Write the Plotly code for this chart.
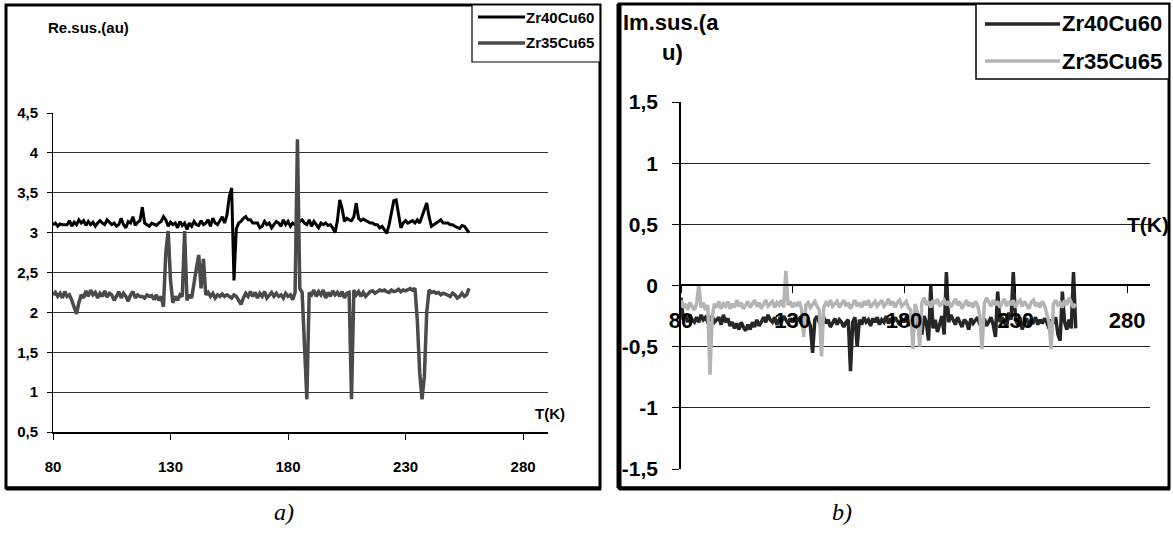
import plotly.graph_objects as go

W, H = 1173, 535

# ---------------- data ----------------
T_LEFT = list(range(80, 258))
T_RIGHT = list(range(80, 258))

re_zr40cu60 = [
    3.10, 3.12, 3.08, 3.11, 3.10, 3.10, 3.10, 3.15, 3.08, 3.13,
    3.10, 3.16, 3.12, 3.15, 3.09, 3.14, 3.10, 3.13, 3.08, 3.12,
    3.15, 3.12, 3.10, 3.16, 3.13, 3.10, 3.12, 3.08, 3.10, 3.18,
    3.10, 3.06, 3.14, 3.12, 3.20, 3.09, 3.13, 3.15, 3.32, 3.12,
    3.10, 3.08, 3.12, 3.10, 3.09, 3.12, 3.14, 3.20, 3.16, 3.08,
    3.13, 3.10, 3.12, 3.06, 3.14, 3.09, 3.12, 3.04, 3.12, 3.08,
    3.14, 3.10, 3.09, 3.15, 3.10, 3.12, 3.16, 3.08, 3.18, 3.12,
    3.10, 3.15, 3.20, 3.12, 3.22, 3.45, 3.56, 2.40, 3.05, 3.12,
    3.14, 3.18, 3.20, 3.16, 3.16, 3.12, 3.12, 3.12, 3.06, 3.08,
    3.14, 3.10, 3.12, 3.06, 3.10, 3.14, 3.12, 3.08, 3.16, 3.10,
    3.14, 3.08, 3.12, 3.10, 3.12, 3.14, 3.16, 3.12, 3.10, 3.16,
    3.08, 3.14, 3.10, 3.06, 3.12, 3.10, 3.12, 3.09, 3.10, 3.06,
    3.00, 3.15, 3.41, 3.30, 3.14, 3.18, 3.16, 3.15, 3.20, 3.37,
    3.18, 3.15, 3.17, 3.15, 3.14, 3.12, 3.12, 3.10, 3.10, 3.06,
    3.08, 3.04, 2.99, 3.10, 3.25, 3.40, 3.41, 3.25, 3.06, 3.12,
    3.15, 3.12, 3.14, 3.15, 3.12, 3.16, 3.12, 3.20, 3.30, 3.37,
    3.20, 3.08, 3.10, 3.12, 3.14, 3.16, 3.12, 3.12, 3.12, 3.10,
    3.10, 3.08, 3.06, 3.05, 3.09, 3.08, 3.04, 3.00,
]

re_zr35cu65 = [
    2.22, 2.25, 2.20, 2.24, 2.18, 2.26, 2.20, 2.22, 2.15, 2.05,
    1.98, 2.12, 2.22, 2.18, 2.27, 2.20, 2.28, 2.22, 2.25, 2.18,
    2.24, 2.20, 2.27, 2.19, 2.24, 2.22, 2.15, 2.20, 2.26, 2.18,
    2.24, 2.20, 2.14, 2.22, 2.26, 2.18, 2.22, 2.20, 2.20, 2.18,
    2.22, 2.20, 2.21, 2.16, 2.22, 2.15, 2.20, 2.07, 2.75, 3.02,
    2.40, 2.12, 2.20, 2.15, 2.22, 2.20, 3.02, 2.15, 2.22, 2.18,
    2.40, 2.55, 2.72, 2.30, 2.67, 2.22, 2.25, 2.20, 2.24, 2.18,
    2.22, 2.20, 2.23, 2.20, 2.22, 2.20, 2.18, 2.22, 2.20, 2.15,
    2.10, 2.18, 2.24, 2.20, 2.26, 2.20, 2.25, 2.18, 2.24, 2.20,
    2.26, 2.18, 2.22, 2.25, 2.20, 2.24, 2.20, 2.22, 2.18, 2.24,
    2.20, 2.22, 2.16, 2.25, 4.17, 2.30, 2.25, 1.60, 0.91, 2.25,
    2.22, 2.28, 2.20, 2.26, 2.22, 2.28, 2.18, 2.25, 2.20, 2.27,
    2.22, 2.25, 2.20, 2.26, 2.18, 2.24, 2.25, 0.91, 2.28, 2.22,
    2.26, 2.20, 2.25, 2.20, 2.23, 2.26, 2.27, 2.24, 2.26, 2.28,
    2.27, 2.28, 2.26, 2.25, 2.28, 2.26, 2.27, 2.29, 2.26, 2.28,
    2.27, 2.29, 2.30, 2.28, 2.30, 1.90, 1.25, 0.91, 1.20, 2.00,
    2.28, 2.25, 2.26, 2.24, 2.25, 2.22, 2.24, 2.23, 2.22, 2.20,
    2.24, 2.22, 2.18, 2.20, 2.24, 2.20, 2.22, 2.30,
]

im_zr40cu60 = [
    -0.10, -0.28, -0.25, -0.30, -0.24, -0.28, -0.30, -0.26, -0.30, -0.24,
    -0.28, -0.26, -0.30, -0.27, -0.25, -0.30, -0.28, -0.26, -0.32, -0.24,
    -0.30, -0.27, -0.33, -0.30, -0.35, -0.31, -0.36, -0.30, -0.34, -0.37,
    -0.32, -0.36, -0.30, -0.34, -0.28, -0.33, -0.30, -0.26, -0.30, -0.24,
    -0.28, -0.30, -0.26, -0.32, -0.28, -0.30, -0.25, -0.28, -0.31, -0.27,
    -0.30, -0.26, -0.29, -0.27, -0.31, -0.26, -0.30, -0.28, -0.33, -0.55,
    -0.28, -0.25, -0.30, -0.28, -0.26, -0.31, -0.28, -0.34, -0.30, -0.27,
    -0.32, -0.28, -0.30, -0.34, -0.30, -0.28, -0.70, -0.30, -0.26, -0.50,
    -0.28, -0.32, -0.26, -0.30, -0.28, -0.33, -0.27, -0.30, -0.26, -0.32,
    -0.28, -0.30, -0.25, -0.31, -0.27, -0.30, -0.26, -0.29, -0.32, -0.27,
    -0.30, -0.26, -0.28, -0.33, -0.27, -0.30, -0.35, -0.28, -0.40, -0.25,
    -0.30, -0.45, 0.00, -0.35, -0.28, -0.38, -0.30, -0.25, -0.40, 0.11,
    -0.30, -0.24, -0.28, -0.32, -0.26, -0.30, -0.34, -0.28, -0.30, -0.36,
    -0.27, -0.31, -0.28, -0.26, -0.32, -0.29, -0.27, -0.33, -0.30, -0.26,
    -0.32, -0.42, -0.05, -0.30, -0.26, -0.30, -0.34, -0.22, -0.28, 0.11,
    -0.28, -0.32, -0.26, -0.36, -0.30, -0.27, -0.33, -0.28, -0.30, -0.26,
    -0.32, -0.28, -0.31, -0.27, -0.30, -0.35, -0.28, -0.31, -0.26, -0.40,
    -0.45, -0.05, -0.30, -0.36, -0.28, -0.35, 0.11, -0.35,
]

im_zr35cu65 = [
    -0.12, -0.18, -0.15, -0.20, -0.14, -0.17, -0.20, -0.15, 0.01, -0.18,
    -0.14, -0.20, -0.16, -0.73, -0.25, -0.15, -0.18, -0.13, -0.19, -0.15,
    -0.17, -0.13, -0.19, -0.15, -0.18, -0.12, -0.17, -0.14, -0.19, -0.16,
    -0.13, -0.18, -0.15, -0.12, -0.17, -0.14, -0.19, -0.15, -0.12, -0.17,
    -0.15, -0.13, -0.18, -0.14, -0.16, -0.12, -0.18, 0.12, -0.16, -0.13,
    -0.18, -0.14, -0.17, -0.13, -0.19, -0.42, -0.16, -0.14, -0.18, -0.15,
    -0.13, -0.17, -0.20, -0.58, -0.18, -0.14, -0.16, -0.12, -0.17, -0.15,
    -0.13, -0.18, -0.15, -0.12, -0.17, -0.14, -0.19, -0.15, -0.12, -0.17,
    -0.14, -0.18, -0.13, -0.16, -0.12, -0.18, -0.15, -0.13, -0.17, -0.14,
    -0.12, -0.17, -0.15, -0.11, -0.16, -0.13, -0.18, -0.14, -0.12, -0.17,
    -0.15, -0.13, -0.18, -0.20, -0.52, -0.15, -0.22, -0.50, -0.14, -0.10,
    -0.16, -0.13, -0.18, -0.12, -0.15, -0.11, -0.17, -0.14, -0.12, -0.16,
    -0.13, -0.18, -0.14, -0.11, -0.16, -0.13, -0.19, -0.15, -0.12, -0.17,
    -0.14, -0.18, -0.13, -0.16, -0.25, -0.52, -0.15, -0.10, -0.14, -0.17,
    -0.12, -0.16, -0.13, -0.18, -0.14, -0.11, -0.17, -0.13, -0.16, -0.12,
    -0.18, -0.14, -0.12, -0.17, -0.13, -0.16, -0.19, -0.14, -0.12, -0.17,
    -0.14, -0.18, -0.13, -0.16, -0.22, -0.30, -0.52, -0.15, -0.12, -0.16,
    -0.14, -0.18, -0.12, -0.16, -0.10, -0.14, -0.18, -0.15,
]

X_TICKS = [80, 130, 180, 230, 280]
X_TICK_TEXT = ["80", "130", "180", "230", "280"]
LEFT_Y_TICKS = [0.5, 1, 1.5, 2, 2.5, 3, 3.5, 4, 4.5]
LEFT_Y_TEXT = ["0,5", "1", "1,5", "2", "2,5", "3", "3,5", "4", "4,5"]
RIGHT_Y_TICKS = [-1.5, -1, -0.5, 0, 0.5, 1, 1.5]
RIGHT_Y_TEXT = ["-1,5", "-1", "-0,5", "0", "0,5", "1", "1,5"]
SERIES = ["Zr40Cu60", "Zr35Cu65"]

# ---------------- helpers ----------------
def fx(x):
    return x / W


def fy(y):
    return 1 - y / H


SANS = "Liberation Sans, Arial, sans-serif"
SERIF = "Liberation Serif, Times New Roman, serif"

C_BLACK = "#000000"
C_DGRAY = "#4a4a4a"
C_DARK = "#262626"
C_LIGHT = "#b4b4b4"

fig = go.Figure()

# left panel
fig.add_trace(go.Scatter(x=T_LEFT, y=re_zr40cu60, mode="lines", name=SERIES[0],
                         line=dict(color=C_BLACK, width=3), xaxis="x", yaxis="y",
                         showlegend=False))
fig.add_trace(go.Scatter(x=T_LEFT, y=re_zr35cu65, mode="lines", name=SERIES[1],
                         line=dict(color=C_DGRAY, width=3.5), xaxis="x", yaxis="y",
                         showlegend=False))
# right panel
fig.add_trace(go.Scatter(x=T_RIGHT, y=im_zr40cu60, mode="lines", name=SERIES[0],
                         line=dict(color=C_DARK, width=3.5), xaxis="x2", yaxis="y2",
                         showlegend=False))
fig.add_trace(go.Scatter(x=T_RIGHT, y=im_zr35cu65, mode="lines", name=SERIES[1],
                         line=dict(color=C_LIGHT, width=3.5), xaxis="x2", yaxis="y2",
                         showlegend=False))

# ---------------- axes ----------------
left_x0, left_x1 = 53, 548
right_x0, right_x1 = 681, 1150

fig.update_layout(
    template="none",
    width=W, height=H, margin=dict(l=0, r=0, t=0, b=0, pad=0, autoexpand=False),
    paper_bgcolor="white", plot_bgcolor="white",
    xaxis=dict(domain=[fx(left_x0), fx(left_x1)], range=[80, 290.6], automargin=False,
               tickvals=X_TICKS, ticktext=X_TICK_TEXT, showgrid=False, zeroline=False,
               showline=True, linecolor="black", linewidth=2, ticks="outside", ticklen=6,
               tickcolor="black", tickwidth=1, ticklabelstandoff=14,
               tickfont=dict(family=SANS, size=15, color="black", weight="bold"),
               anchor="y"),
    yaxis=dict(domain=[fy(432), fy(113)], range=[0.5, 4.5], automargin=False,
               tickvals=LEFT_Y_TICKS, ticktext=LEFT_Y_TEXT, showgrid=True,
               gridcolor="#333333", gridwidth=1.2, zeroline=False, showline=True,
               linecolor="black", linewidth=1, ticks="outside", ticklen=5, tickcolor="black",
               tickwidth=1, ticklabelstandoff=6,
               tickfont=dict(family=SANS, size=15, color="black", weight="bold"),
               anchor="x"),
    xaxis2=dict(domain=[fx(right_x0), fx(right_x1)], range=[80, 290.3], automargin=False,
                tickvals=X_TICKS, ticktext=X_TICK_TEXT, showgrid=False, zeroline=False,
                showline=True, linecolor="black", linewidth=2, ticks="outside", ticklen=7,
                tickcolor="black", tickwidth=1, ticklabelstandoff=9,
                tickfont=dict(family=SANS, size=22, color="black", weight="bold"),
                anchor="free", position=fy(285)),
    yaxis2=dict(domain=[fy(469), fy(102)], range=[-1.5, 1.5], automargin=False,
                tickvals=RIGHT_Y_TICKS, ticktext=RIGHT_Y_TEXT, showgrid=True,
                gridcolor="#222222", gridwidth=1.2, zeroline=False, showline=True,
                linecolor="black", linewidth=1.5, ticks="outside", ticklen=7, tickcolor="black",
                tickwidth=1, ticklabelstandoff=10,
                tickfont=dict(family=SANS, size=21, color="black", weight="bold"),
                anchor="x2"),
)

# ---------------- frames & legends ----------------
shapes = []
# left frame
shapes.append(dict(type="rect", xref="paper", yref="paper", x0=fx(6), x1=fx(600),
                   y0=fy(488), y1=fy(5), line=dict(color="black", width=3)))
shapes.append(dict(type="line", xref="paper", yref="paper", x0=fx(6), x1=fx(601),
                   y0=fy(488.5), y1=fy(488.5), line=dict(color="black", width=4)))
# right frame
shapes.append(dict(type="rect", xref="paper", yref="paper", x0=fx(619), x1=fx(1169),
                   y0=fy(488), y1=fy(4), line=dict(color="black", width=3)))
shapes.append(dict(type="line", xref="paper", yref="paper", x0=fx(619), x1=fx(619),
                   y0=fy(488), y1=fy(4), line=dict(color="black", width=5)))
shapes.append(dict(type="line", xref="paper", yref="paper", x0=fx(619), x1=fx(1170),
                   y0=fy(488.5), y1=fy(488.5), line=dict(color="black", width=4)))
# left legend
shapes.append(dict(type="rect", xref="paper", yref="paper", x0=fx(472), x1=fx(600),
                   y0=fy(62), y1=fy(5), line=dict(color="black", width=1.2),
                   fillcolor="white"))
shapes.append(dict(type="line", xref="paper", yref="paper", x0=fx(478), x1=fx(525),
                   y0=fy(17), y1=fy(17), line=dict(color=C_BLACK, width=3)))
shapes.append(dict(type="line", xref="paper", yref="paper", x0=fx(478), x1=fx(525),
                   y0=fy(43), y1=fy(43), line=dict(color=C_DGRAY, width=3.5)))
# right legend
shapes.append(dict(type="rect", xref="paper", yref="paper", x0=fx(976), x1=fx(1169),
                   y0=fy(79), y1=fy(4), line=dict(color="black", width=1.5),
                   fillcolor="white"))
shapes.append(dict(type="line", xref="paper", yref="paper", x0=fx(985), x1=fx(1060),
                   y0=fy(24), y1=fy(24), line=dict(color=C_DARK, width=3.5)))
shapes.append(dict(type="line", xref="paper", yref="paper", x0=fx(985), x1=fx(1060),
                   y0=fy(61), y1=fy(61), line=dict(color=C_LIGHT, width=3.5)))
fig.update_layout(shapes=shapes)


def ann(text, x, y, size, family=SANS, xanchor="left", bold=True, italic=False):
    return dict(text=text, x=fx(x), y=fy(y), xref="paper", yref="paper",
                xanchor=xanchor, yanchor="middle", showarrow=False,
                font=dict(family=family, size=size, color="black",
                          weight="bold" if bold else "normal",
                          style="italic" if italic else "normal"))


annotations = [
    ann("Re.sus.(au)", 46, 28, 15),
    ann("T(K)", 533, 413, 15),
    ann(SERIES[0], 524, 17, 15),
    ann(SERIES[1], 524, 43, 15),
    ann("Im.sus.(a", 621, 23, 22),
    ann("u)", 660, 53, 22),
    ann("T(K)", 1125, 224, 21),
    ann(SERIES[0], 1060, 24, 22),
    ann(SERIES[1], 1060, 61, 22),
    ann("a)", 284, 512, 24, family=SERIF, xanchor="center", bold=False, italic=True),
    ann("b)", 842, 512, 24, family=SERIF, xanchor="center", bold=False, italic=True),
]
fig.update_layout(annotations=annotations)

fig.write_html("out.html")
